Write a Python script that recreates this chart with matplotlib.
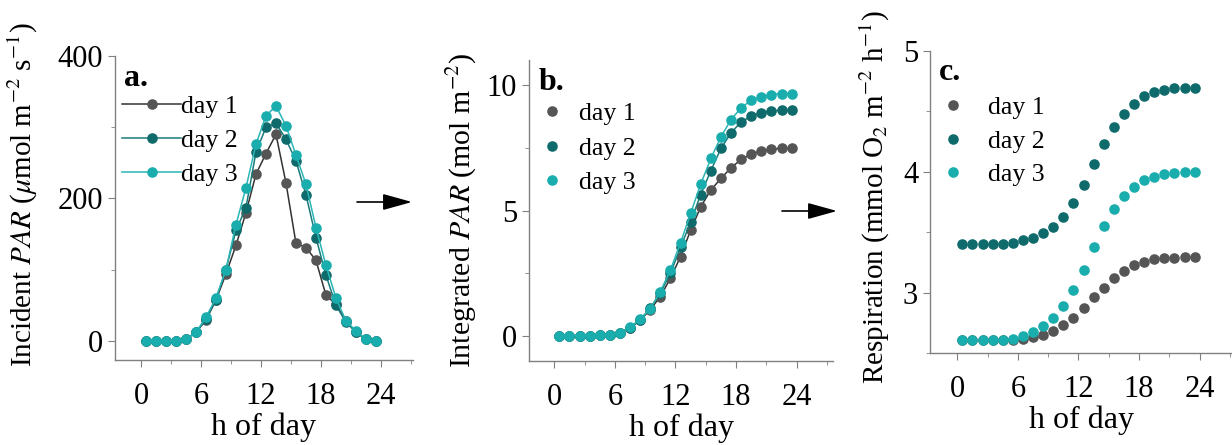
import matplotlib
matplotlib.use("Agg")
import matplotlib.pyplot as plt
from matplotlib.ticker import MultipleLocator

plt.rcParams['font.family'] = ['Liberation Serif', 'DejaVu Serif']
plt.rcParams['mathtext.fontset'] = 'stix'

hours = [h + 0.5 for h in range(24)]

# a. incident PAR (umol m-2 s-1)
par_day1 = [0, 0, 0, 0, 2, 12, 29, 57, 94, 134, 180, 234, 263, 290, 222, 137,
            131, 113, 64, 51, 28, 12, 2, 0]
par_day2 = [0, 0, 0, 0, 2, 12, 30, 58, 100, 155, 187, 265, 300, 306, 283, 253,
            205, 145, 92, 50, 26, 12, 2, 0]
par_day3 = [0, 0, 0, 0, 2, 12, 33, 60, 100, 163, 215, 276, 316, 330, 302, 261,
            220, 159, 106, 60, 28, 14, 2, 0]

# b. integrated PAR (mol m-2)
ipar_day1 = [0.01, 0.01, 0.01, 0.01, 0.02, 0.05, 0.13, 0.32, 0.62, 1.05, 1.57, 2.3,
             3.16, 4.22, 5.15, 5.82, 6.28, 6.71, 7.04, 7.25, 7.38, 7.46, 7.48, 7.48]
ipar_day2 = [0.01, 0.01, 0.01, 0.01, 0.02, 0.05, 0.13, 0.33, 0.65, 1.1, 1.7, 2.5,
             3.53, 4.55, 5.64, 6.59, 7.48, 8.1, 8.54, 8.76, 8.91, 8.98, 9.0, 9.0]
ipar_day3 = [0.01, 0.01, 0.01, 0.01, 0.02, 0.05, 0.13, 0.35, 0.66, 1.09, 1.77, 2.63,
             3.72, 4.89, 6.06, 7.08, 7.94, 8.63, 9.1, 9.4, 9.54, 9.63, 9.67, 9.67]

# c. respiration (mmol O2 m-2 h-1)
resp_day1 = [2.606, 2.606, 2.606, 2.606, 2.607, 2.61, 2.614, 2.63, 2.65, 2.68, 2.73, 2.79,
             2.87, 2.96, 3.04, 3.12, 3.18, 3.225, 3.255, 3.275, 3.285, 3.29, 3.295, 3.295]
resp_day2 = [3.40, 3.40, 3.40, 3.40, 3.405, 3.41, 3.435, 3.455, 3.49, 3.545, 3.625, 3.74,
             3.89, 4.06, 4.23, 4.37, 4.48, 4.56, 4.625, 4.66, 4.68, 4.69, 4.695, 4.695]
resp_day3 = [2.606, 2.606, 2.606, 2.606, 2.608, 2.614, 2.64, 2.675, 2.725, 2.79, 2.89, 3.02,
             3.19, 3.38, 3.55, 3.69, 3.80, 3.87, 3.93, 3.96, 3.98, 3.99, 3.995, 4.0]

labels = ["day 1", "day 2", "day 3"]
c_marker = ["#555555", "#0f6b6b", "#1aadad"]
c_line = ["#333333", "#1a7a7a", "#2bb5b5"]
axis_grey = "#808080"

fig = plt.figure(figsize=(12.32, 4.45), dpi=100)
ax_a = fig.add_axes([0.0933, 0.191, 0.2419, 0.683])
ax_b = fig.add_axes([0.4294, 0.1888, 0.2468, 0.676])
ax_c = fig.add_axes([0.7549, 0.2067, 0.2451, 0.679])

ms = 6.6

for i, ys in enumerate([par_day1, par_day2, par_day3]):
    ax_a.plot(hours, ys, "-o", color=c_line[i], lw=1.1, ms=ms,
              mfc=c_marker[i], mec=c_marker[i], label=labels[i])
for i, ys in enumerate([ipar_day1, ipar_day2, ipar_day3]):
    ax_b.plot(hours, ys, "-", color=c_line[i], lw=1.1)
    ax_b.plot(hours, ys, "o", color=c_marker[i], ms=ms, label=labels[i])
for i, ys in enumerate([resp_day1, resp_day2, resp_day3]):
    ax_c.plot(hours, ys, "o", color=c_marker[i], ms=ms, label=labels[i])

ax_a.set_xlim(-2.6, 27.2)
ax_a.set_ylim(-27, 400)
ax_a.yaxis.set_major_locator(MultipleLocator(200))
ax_a.yaxis.set_minor_locator(MultipleLocator(100))
ax_a.set_ylabel(r"Incident $\mathit{PAR}$ ($\mu$mol m$^{-2}$ s$^{-1}$)", fontsize=21)
ax_a.yaxis.set_label_coords(-0.25, 0.545)

ax_b.set_xlim(-2.5, 27.6)
ax_b.set_ylim(-1, 11)
ax_b.yaxis.set_major_locator(MultipleLocator(5))
ax_b.yaxis.set_minor_locator(MultipleLocator(2.5))
ax_b.set_ylabel(r"Integrated $\mathit{PAR}$ (mol m$^{-2}$)", fontsize=21.5)
ax_b.yaxis.set_label_coords(-0.165, 0.5)

ax_c.set_xlim(-2.7, 27.2)
ax_c.set_ylim(2.5, 5)
ax_c.yaxis.set_major_locator(MultipleLocator(1))
ax_c.yaxis.set_minor_locator(MultipleLocator(0.5))
ax_c.set_ylabel(r"Respiration (mmol O$_2$ m$^{-2}$ h$^{-1}$)", fontsize=21)
ax_c.yaxis.set_label_coords(-0.125, 0.515)

for ax, tag in zip([ax_a, ax_b, ax_c], ["a.", "b.", "c."]):
    ax.xaxis.set_major_locator(MultipleLocator(6))
    ax.xaxis.set_minor_locator(MultipleLocator(3))
    ax.spines["top"].set_visible(False)
    ax.spines["right"].set_visible(False)
    for s in ["left", "bottom"]:
        ax.spines[s].set_color(axis_grey)
        ax.spines[s].set_linewidth(1.0)
    ax.tick_params(which="both", direction="out", color=axis_grey, labelsize=22)
    ax.tick_params(axis="x", pad=11)
    ax.tick_params(which="major", length=5)
    ax.tick_params(which="minor", length=3)
    ax.set_xlabel("h of day", fontsize=23, labelpad=1)
    ax.text(0.03, 0.975, tag, transform=ax.transAxes, fontsize=23,
            fontweight="bold", va="top", ha="left")

ax_a.legend(loc="upper left", bbox_to_anchor=(-0.01, 0.905), frameon=False,
            fontsize=18.5, handlelength=2.3, handletextpad=0.0,
            labelspacing=0.42, borderaxespad=0)
ax_b.legend(loc="upper left", bbox_to_anchor=(0.0, 0.895), frameon=False,
            fontsize=18.5, handlelength=1.0, handletextpad=0.55,
            labelspacing=0.45, borderaxespad=0)
ax_c.legend(loc="upper left", bbox_to_anchor=(0.0, 0.885), frameon=False,
            fontsize=18.5, handlelength=1.0, handletextpad=0.85,
            labelspacing=0.42, borderaxespad=0)

arrow = dict(arrowstyle="-|>,head_length=1.8,head_width=0.5", color="black",
             lw=1.2, shrinkA=0, shrinkB=0)
fig.add_artist(plt.Annotation("", xy=(412 / 1232, 1 - 202 / 445),
                              xytext=(357 / 1232, 1 - 202 / 445),
                              xycoords="figure fraction", arrowprops=arrow))
fig.add_artist(plt.Annotation("", xy=(837 / 1232, 1 - 211 / 445),
                              xytext=(782 / 1232, 1 - 211 / 445),
                              xycoords="figure fraction", arrowprops=arrow))

fig.savefig("out.png", dpi=100)
